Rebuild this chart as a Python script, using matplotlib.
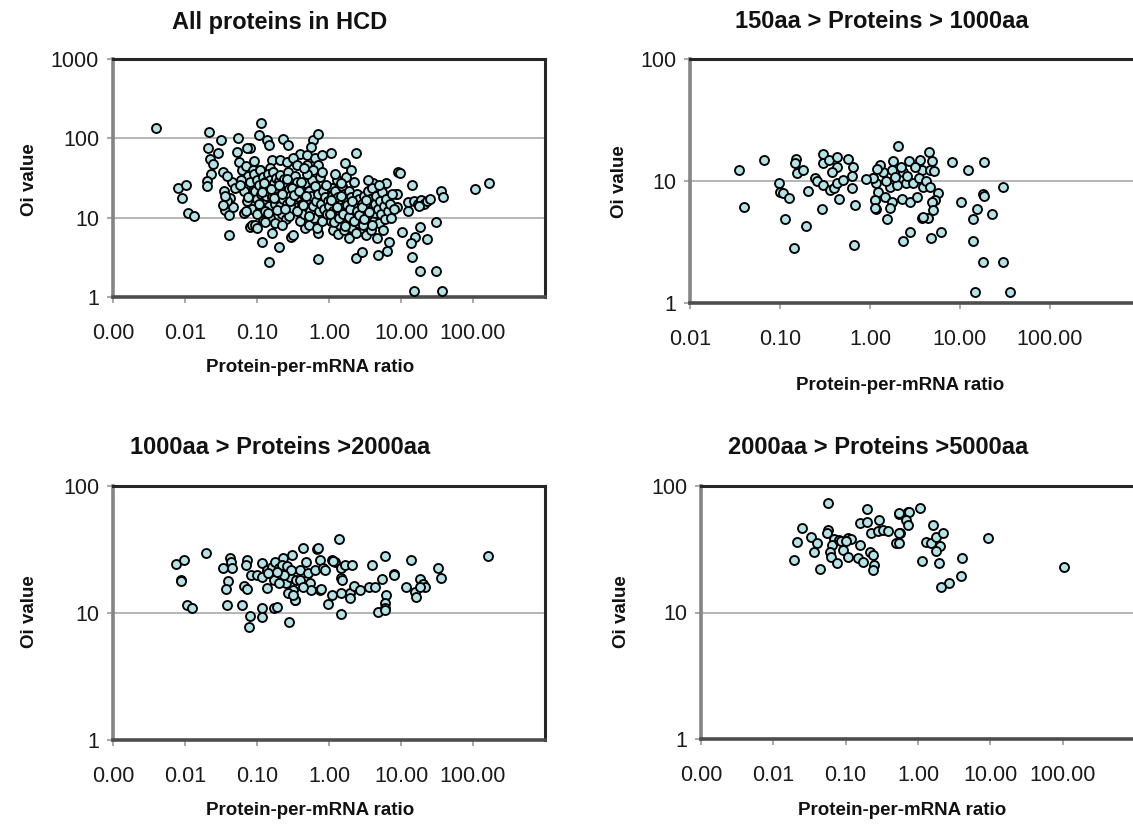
import matplotlib
matplotlib.use("Agg")
import matplotlib.pyplot as plt
from matplotlib.ticker import NullLocator

plt.rcParams['font.family'] = ['Liberation Sans', 'DejaVu Sans']

# ---------------- data ----------------
titles = ["All proteins in HCD", "150aa > Proteins > 1000aa",
          "1000aa > Proteins >2000aa", "2000aa > Proteins >5000aa"]
x_label = "Protein-per-mRNA ratio"
y_label = "Oi value"

# Panel 1: all proteins
hcd_ratio = [
    0.004, 0.008, 0.0102, 0.009, 0.011, 0.0133, 0.0216, 0.0316, 0.054, 0.021,
    0.0286, 0.022, 0.0243, 0.023, 0.0335, 0.020, 0.020, 0.0346, 0.042, 0.036,
    0.041, 0.041, 0.066, 0.080, 0.114, 0.107, 0.137, 0.146, 0.23, 0.27,
    0.6, 0.7, 0.56, 1.07, 2.4, 1.65, 0.39, 0.16, 0.21, 0.08,
    9.1, 6.2, 4.1, 8.5, 1.1, 0.117, 0.2, 0.146, 0.3, 0.7,
    0.7, 2.4, 2.9, 4.8, 6.4, 9.6, 14.3, 8.8, 36, 38,
    105, 165, 12.5, 8.8, 12.5, 15, 17, 19, 21, 23,
    25, 18, 18.6, 31, 10.4, 15.8, 13.8, 23, 14.3, 18.5,
    31, 15, 37,
    0.052, 0.056, 0.072, 0.062, 0.075, 0.068, 0.072, 0.085, 0.085, 0.045,
    0.038, 0.049, 0.046, 0.038, 0.034, 0.036,
    0.06, 0.065, 0.07, 0.075, 0.08, 0.085, 0.09, 0.07, 0.058, 0.088,
    0.26, 0.32, 0.5, 0.64, 0.8, 0.7, 0.5, 0.36, 0.15, 0.11,
    0.09, 0.095, 0.1, 0.1, 0.105, 0.11, 0.11, 0.115, 0.12, 0.125,
    0.13, 0.13, 0.135, 0.14, 0.14, 0.145, 0.15, 0.155, 0.16, 0.165,
    0.17, 0.175, 0.18, 0.185, 0.19, 0.2, 0.2, 0.21, 0.21, 0.22,
    0.23, 0.235, 0.24, 0.25, 0.26, 0.27, 0.28, 0.29, 0.3, 0.31,
    0.32, 0.33, 0.34, 0.35, 0.36,
    0.1, 0.12, 0.15, 0.18, 0.22, 0.25, 0.13, 0.28, 0.095, 0.16,
    0.1, 0.13, 0.22, 0.32, 0.46,
    0.37, 0.38, 0.4, 0.4, 0.42, 0.44, 0.45, 0.47, 0.48, 0.5,
    0.52, 0.53, 0.55, 0.57, 0.58, 0.6, 0.62, 0.64, 0.66, 0.68,
    0.7, 0.72, 0.75, 0.78, 0.8, 0.82, 0.85, 0.88, 0.9, 0.95,
    0.97, 0.6, 0.5, 0.45, 0.8,
    1.0, 1.05, 1.1, 1.12, 1.15, 1.2, 1.22, 1.25, 1.3, 1.32,
    1.35, 1.4, 1.42, 1.45, 1.5, 1.5, 1.55, 1.6, 1.62, 1.65,
    1.7, 1.75, 1.8, 1.85, 1.9, 1.9, 1.95, 2.0, 2.05, 2.1,
    2.15, 2.2, 2.2, 2.3, 2.35, 2.4, 2.45, 2.5, 2.55, 2.6,
    1.3, 1.7, 1.2, 2.0, 1.45,
    2.8, 2.9, 3.0, 3.1, 3.2, 3.3, 3.4, 3.5, 3.6, 3.7,
    3.8, 3.9, 4.0, 4.2, 4.3, 4.4, 4.5, 4.7, 4.8, 5.0,
    5.1, 5.3, 5.5, 5.6, 5.8, 6.0, 6.2, 6.5, 6.8, 7.0,
    7.3, 7.6, 8.0, 3.5, 5.0,
    0.105, 0.118, 0.127, 0.142, 0.158, 0.172, 0.188, 0.205, 0.225, 0.245,
    0.265, 0.285, 0.305, 0.33, 0.355, 0.38, 0.41, 0.44, 0.48, 0.52,
    1.02, 1.08, 1.18, 1.28, 1.38, 1.48, 1.58, 1.68, 1.78, 1.88,
    1.98, 2.08, 2.25, 2.42, 2.65, 2.85, 3.05, 3.3, 3.6, 3.9,
]
hcd_oi = [
    135, 23.6, 25.7, 17.7, 11.5, 10.5, 120, 95, 100, 75,
    65, 55, 47, 36, 38, 29, 25, 21.6, 17.7, 12.5,
    10.8, 6.0, 11.5, 7.6, 155, 110, 95, 82, 98, 82,
    95, 113, 78, 65, 65, 49, 63, 53, 53, 75,
    38, 27, 27, 20, 24, 4.9, 4.3, 2.75, 5.7, 6.4,
    3.0, 3.1, 3.7, 3.4, 3.8, 37, 26, 20, 22, 18,
    23, 27.5, 15.8, 13.7, 12, 16, 15, 16.5, 15, 16,
    17, 14, 7.6, 8.7, 6.6, 5.7, 4.8, 5.4, 3.2, 2.1,
    2.1, 1.18, 1.18,
    67, 50, 75, 40, 34, 24, 16, 19, 8.1, 28,
    34, 24, 13.5, 16, 14.5, 19,
    30, 22, 45, 18, 28, 13, 52, 12, 26, 40,
    50, 56, 61, 56, 61, 46, 46, 46, 42, 40,
    36, 22, 30, 17, 26, 40, 13, 20, 33, 24,
    16, 28, 19, 36, 22, 14, 30, 25, 18, 38,
    21, 27, 15, 32, 23, 19, 29, 35, 14, 24,
    17, 31, 21, 27, 15, 38, 23, 19, 30, 13,
    25, 17, 34, 21, 28,
    11, 9, 10, 8.5, 11, 9.5, 12, 10.5, 8, 6.5,
    7.4, 8.8, 8.1, 6.0, 7.4,
    12, 18, 24, 9, 15, 20, 11, 27, 14, 17,
    8, 22, 12, 19, 30, 14, 10, 25, 16, 7.5,
    20, 12, 33, 15, 9, 22, 13, 18, 26, 11,
    16, 40, 36, 42, 38,
    14, 9, 19, 12, 7, 16, 22, 10, 13, 6.2,
    18, 11, 8, 15, 25, 9.5, 12.5, 20, 7, 14,
    10.5, 17, 8.5, 12, 22, 5.5, 15, 10, 18, 7.5,
    13, 28, 9, 16, 11, 6.5, 20, 13.5, 8.5, 17,
    30, 33, 36, 40, 27,
    11, 15, 8, 19, 12.5, 6, 14, 22, 10, 17,
    7, 13, 24, 9, 15, 11.5, 19, 5.5, 13, 8.5,
    16, 11, 21, 7, 14, 9.5, 17, 12, 5, 15,
    10, 20, 13, 30, 26,
    15, 21, 27, 11.5, 23, 17.5, 12.5, 26, 20, 13,
    31, 16, 24, 19.5, 12, 22, 28, 14.5, 19, 10.5,
    11, 16.5, 8.8, 13.5, 9.8, 19, 11.2, 7.8, 14.5, 10.2,
    12.8, 16, 9.2, 12, 10.8, 13.8, 9.5, 16.5, 11.8, 8.2,
]

# Panel 2: 150aa - 1000aa
short_ratio = [
    0.035, 0.066, 0.040, 0.151, 0.147, 0.154, 0.18, 0.097, 0.1, 0.108,
    0.126, 0.114, 0.143, 0.194, 0.205, 0.29, 0.30, 0.30, 0.35, 0.43,
    0.43, 0.38, 0.245, 0.26, 0.30, 0.36, 0.40, 0.43, 0.50, 0.45,
    0.57, 0.65, 0.63, 0.63, 0.68, 0.66, 1.08, 1.16, 1.13, 1.16,
    2.05, 1.8, 2.7, 3.6, 4.5, 4.9, 1.08, 1.4, 1.76, 2.3,
    3.75, 4.6, 1.23, 1.67, 2.0, 2.5, 3.0, 3.9, 1.13, 1.46,
    1.76, 2.25, 2.76, 3.3, 1.13, 1.67, 1.55, 5.7, 5.3, 4.9,
    5.0, 4.4, 3.8, 3.9, 2.76, 2.3, 4.8, 6.1, 8.1, 12.3,
    18.5, 30, 18.2, 18.5, 10.3, 15.4, 13.9, 22.6, 13.9, 18.2,
    30, 14.6, 36,
    1.3, 1.5, 1.9, 2.2, 2.6, 3.2, 3.5, 4.2, 4.7, 1.2, 0.9, 5.2,
]
short_oi = [
    12.3, 14.9, 6.1, 15.2, 14, 11.6, 12.3, 9.6, 8.1, 7.95,
    7.3, 4.9, 2.8, 4.3, 8.3, 5.9, 16.6, 14, 15, 15.7,
    13, 11.8, 10.6, 10, 9.3, 8.4, 8.8, 9.6, 10.2, 7.1,
    15.2, 13, 11, 8.8, 6.3, 3.0, 10.6, 9.6, 7, 5.9,
    19.4, 14.6, 14.6, 15, 17.3, 14.6, 10.6, 11.8, 12.3, 11.8,
    12.3, 12.3, 8.1, 8.9, 9.3, 9.6, 9.6, 8.9, 7, 7.4,
    6.7, 7.1, 6.7, 7.4, 6.0, 6.0, 4.9, 8.0, 7.0, 6.7,
    5.8, 5.0, 5.0, 5.1, 3.8, 3.2, 3.4, 3.8, 14.3, 12.3,
    14.3, 8.9, 7.8, 7.6, 6.7, 5.9, 4.9, 5.4, 3.2, 2.17,
    2.17, 1.23, 1.23,
    13.5, 10, 10.8, 13, 11, 13, 10.5, 10, 9, 12.5, 10.3, 12,
]

# Panel 3: 1000aa - 2000aa
mid_ratio = [
    0.0076, 0.0098, 0.0087, 0.0087, 0.0108, 0.0126, 0.0197, 0.042, 0.0435, 0.0337,
    0.045, 0.0395, 0.037, 0.038, 0.072, 0.070, 0.082, 0.066, 0.072, 0.062,
    0.08, 0.077, 0.116, 0.136, 0.116, 0.116, 0.17, 0.19, 0.28, 0.34,
    0.099, 0.116, 0.136, 0.16, 0.18, 0.2, 0.21, 0.23, 0.25, 0.255,
    0.29, 0.32, 0.31, 0.35, 0.4, 0.44, 0.48, 0.51, 0.55, 0.57,
    0.64, 0.68, 0.76, 0.76, 0.83, 0.27, 0.34, 0.17, 0.2, 0.4,
    0.44, 0.32, 1.38, 0.71, 1.1, 1.2, 0.88, 1.45, 1.65, 2.1,
    1.45, 1.5, 0.78, 1.1, 0.97, 1.45, 1.97, 1.97, 2.2, 2.7,
    3.6, 4.4, 1.45, 4.0, 5.9, 5.5, 8.1, 6.1, 5.9, 5.9,
    4.8, 5.9, 13.6, 11.9, 15.4, 16.4, 18.6, 19.9, 21.8, 18.6,
    33, 35.5, 161, 8.1, 1.15, 0.22, 0.26, 0.3, 0.24, 0.19, 0.14,
]
mid_oi = [
    24.3, 26.1, 18.2, 18.0, 11.6, 11, 29.7, 27.1, 25.3, 22.6,
    22.6, 17.9, 15.5, 11.6, 26.1, 23.9, 19.9, 16.3, 15.5, 11.6,
    9.5, 7.8, 24.8, 15.7, 11.0, 9.3, 11, 11.2, 8.5, 12.6,
    19.9, 19.2, 21.8, 23, 25.3, 22.6, 19.2, 27.1, 21.8, 17.2,
    19.2, 15.2, 28.6, 18.2, 21.8, 32.5, 25.3, 20.7, 17.2, 15.2,
    21.8, 31.9, 26.1, 15.2, 22.6, 14.4, 12.6, 18.2, 17.2, 18.2,
    16, 13.9, 38.3, 32.5, 26.1, 25.3, 21.8, 22.6, 23.9, 23.9,
    18.9, 18.2, 15.5, 13.9, 11.8, 14.4, 14.4, 13.2, 16.3, 15.2,
    16, 16, 9.8, 23.9, 28.1, 18.5, 20.2, 13.9, 12.0, 11.0,
    10.2, 10.5, 26.1, 16, 14.6, 13.4, 18.5, 17.0, 16, 16,
    22.6, 18.9, 28.1, 20.0, 25.8, 24, 23.5, 22, 20, 21, 20.5,
]

# Panel 4: 2000aa - 5000aa
long_ratio = [
    0.057, 0.0193, 0.021, 0.0248, 0.033, 0.04, 0.036, 0.044, 0.057, 0.055,
    0.068, 0.064, 0.06, 0.062, 0.075, 0.08, 0.091, 0.107, 0.12, 0.091,
    0.107, 0.157, 0.147, 0.172, 0.157, 0.2, 0.195, 0.288, 0.222, 0.278,
    0.33, 0.38, 0.215, 0.236, 0.25, 0.236, 0.49, 0.56, 0.54, 0.72,
    0.55, 0.74, 1.05, 0.69, 0.72, 0.55, 0.55, 1.6, 1.28, 1.53,
    1.8, 2.2, 2.0, 1.8, 1.15, 1.93, 4.0, 3.9, 2.66, 2.1,
    9.2, 103, 0.085, 0.1,
]
long_oi = [
    73, 26, 36, 46.6, 39.5, 35.5, 30, 22, 44.9, 42.5,
    38, 34, 30, 27.5, 24.6, 37.5, 36, 38.8, 38, 31,
    27.5, 34, 27, 25, 51, 52, 65.8, 54, 42.5, 44,
    45, 44, 30, 28.5, 23.8, 21.7, 35.4, 42.5, 60, 62,
    61, 62, 67, 54, 49, 42.5, 35.4, 49, 36, 35.4,
    39.5, 42.5, 33.5, 30.6, 25.5, 24.6, 27, 19.4, 17.1, 15.9,
    38.8, 22.9, 36.5, 37,
]

x_ticks_a = [0.001, 0.01, 0.1, 1, 10, 100]
x_labels_a = ["0.00", "0.01", "0.10", "1.00", "10.00", "100.00"]
x_ticks_b = [0.01, 0.1, 1, 10, 100]
x_labels_b = ["0.01", "0.10", "1.00", "10.00", "100.00"]

# ---------------- figure ----------------
W, H = 1133, 830
fig = plt.figure(figsize=(W / 100, H / 100), dpi=100)


def px_axes(left, top, right, bottom):
    return fig.add_axes([left / W, 1 - bottom / H, (right - left) / W, (bottom - top) / H])


FILL = '#b3e3e6'


def style(ax, xlim, ylim, xt, xl, yt, yl, grid):
    ax.set_xscale('log')
    ax.set_yscale('log')
    ax.set_xlim(*xlim)
    ax.set_ylim(*ylim)
    ax.xaxis.set_minor_locator(NullLocator())
    ax.yaxis.set_minor_locator(NullLocator())
    ax.set_xticks(xt)
    ax.set_xticklabels(xl)
    ax.set_yticks(yt)
    ax.set_yticklabels(yl)
    for g in grid:
        ax.axhline(g, color='#a9a9a9', lw=1.2, zorder=0)
    ax.spines['top'].set_color('#262626')
    ax.spines['top'].set_linewidth(2.2)
    ax.spines['right'].set_color('#262626')
    ax.spines['right'].set_linewidth(2.2)
    ax.spines['left'].set_color('#858585')
    ax.spines['left'].set_linewidth(2.6)
    ax.spines['bottom'].set_color('#4d4d4d')
    ax.spines['bottom'].set_linewidth(2.6)
    ax.tick_params(axis='both', which='major', length=4, width=1.2, color='#9a9a9a',
                   labelsize=15.5, labelcolor='#1a1a1a')
    ax.tick_params(axis='x', pad=15)
    ax.tick_params(axis='y', pad=6)


def scatter(ax, xs, ys):
    ax.scatter(xs, ys, s=42, facecolor=FILL, edgecolor='black', linewidths=1.35,
               zorder=3, clip_on=True)


ax1 = px_axes(113, 59, 545, 297)
scatter(ax1, hcd_ratio, hcd_oi)
style(ax1, (0.001, 1000), (1, 1000), x_ticks_a, x_labels_a,
      [1, 10, 100, 1000], ["1", "10", "100", "1000"], [10, 100])

ax2 = px_axes(690, 59, 1140, 303)
scatter(ax2, short_ratio, short_oi)
style(ax2, (0.01, 1000), (1, 100), x_ticks_b, x_labels_b,
      [1, 10, 100], ["1", "10", "100"], [10])

ax3 = px_axes(113, 486, 545, 740)
scatter(ax3, mid_ratio, mid_oi)
style(ax3, (0.001, 1000), (1, 100), x_ticks_a, x_labels_a,
      [1, 10, 100], ["1", "10", "100"], [10])

ax4 = px_axes(701, 486, 1135, 739)
scatter(ax4, long_ratio, long_oi)
style(ax4, (0.001, 1000), (1, 100), x_ticks_a, x_labels_a,
      [1, 10, 100], ["1", "10", "100"], [10])

# titles and axis labels (placed in pixel coordinates of the figure)
title_pos = [(280, 22), (882, 22), (280, 447), (878, 447)]
xlab_pos = [(310, 368), (900, 386), (310, 810), (902, 810)]
ylab_pos = [(30, 180), (620, 182), (30, 612), (622, 612)]
for (tx, ty), t in zip(title_pos, titles):
    fig.text(tx / W, 1 - ty / H, t, ha='center', va='center', fontsize=17,
             fontweight='bold', color='#111111')
for (lx, ly) in xlab_pos:
    fig.text(lx / W, 1 - ly / H, x_label, ha='center', va='center', fontsize=13.5,
             fontweight='bold', color='#111111')
for (lx, ly) in ylab_pos:
    fig.text(lx / W, 1 - ly / H, y_label, ha='center', va='center', fontsize=13.5,
             fontweight='bold', rotation=90, color='#111111')

fig.savefig("out.png", dpi=100)
